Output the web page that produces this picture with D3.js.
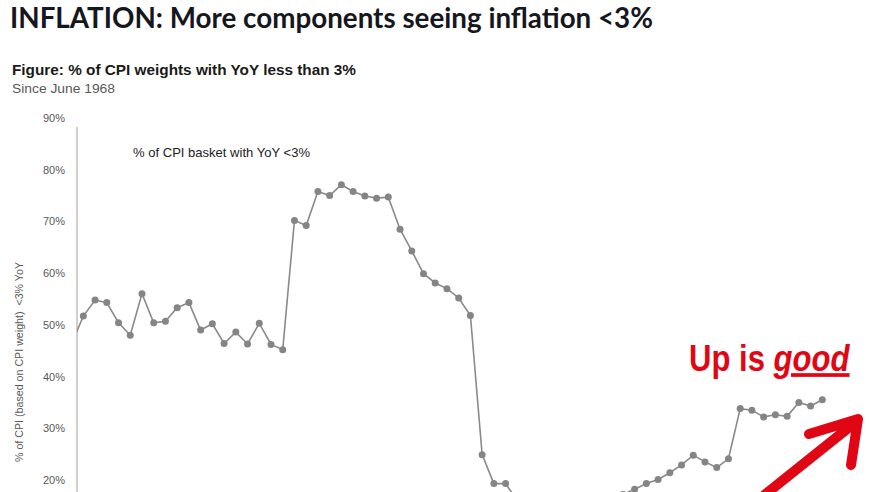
<!DOCTYPE html>
<html>
<head>
<meta charset="utf-8">
<script src="https://cdn.jsdelivr.net/npm/d3@7"></script>
<style>
  html, body { margin: 0; padding: 0; background: #fff; }
  svg { display: block; }
</style>
</head>
<body>
<svg id="chart" width="870" height="492"></svg>
<script>
// ---- Data ----
const periods = d3.range(0, 65); // sequential observations since June 1968
const shareBelow3 = [
  46.3, 51.7, 54.8, 54.3, 50.4, 48.0, 56.0, 50.4, 50.7, 53.3,
  54.3, 49.0, 50.2, 46.4, 48.6, 46.3, 50.3, 46.2, 45.2, 70.2,
  69.2, 75.8, 75.0, 77.1, 75.8, 74.9, 74.5, 74.7, 68.5, 64.3,
  59.9, 58.1, 57.0, 55.2, 51.8, 24.9, 19.3, 19.3, 16.0, 14.0,
  12.5, 11.0, 12.0, 13.0, 14.5, 15.5, 16.5, 17.2, 18.2, 19.3,
  20.1, 21.4, 22.9, 24.8, 23.5, 22.4, 24.1, 33.8, 33.5, 32.2,
  32.6, 32.3, 35.0, 34.3, 35.5
];
const yTicks = [20, 30, 40, 50, 60, 70, 80, 90];

const title = "INFLATION: More components seeing inflation <3%";
const figTitle = "Figure: % of CPI weights with YoY less than 3%";
const figSub = "Since June 1968";
const seriesLabel = "% of CPI basket with YoY <3%";
const yTitle = "% of CPI (based on CPI weight)  <3% YoY";

// ---- Layout ----
const svg = d3.select("#chart");
const axisX = 77;

const x = d3.scaleLinear().domain([0, 64]).range([71.6, 822.3]);
const y = d3.scaleLinear().domain([0, 90]).range([583.4, 118]);

// Titles
svg.append("text")
  .attr("x", 10).attr("y", 28)
  .attr("font-family", "Lato, 'Open Sans', sans-serif")
  .attr("font-weight", 700)
  .attr("font-size", 28)
  .attr("fill", "#16161d")
  .attr("textLength", 643).attr("lengthAdjust", "spacingAndGlyphs")
  .text(title);

svg.append("text")
  .attr("x", 12).attr("y", 75)
  .attr("font-family", "'Liberation Sans', Arial, sans-serif")
  .attr("font-weight", 700)
  .attr("font-size", 15)
  .attr("fill", "#1a1a1a")
  .attr("textLength", 344).attr("lengthAdjust", "spacingAndGlyphs")
  .text(figTitle);

svg.append("text")
  .attr("x", 12).attr("y", 93)
  .attr("font-family", "'Liberation Sans', Arial, sans-serif")
  .attr("font-size", 13)
  .attr("fill", "#595959")
  .attr("textLength", 103).attr("lengthAdjust", "spacingAndGlyphs")
  .text(figSub);

// Y axis
const yAxis = d3.axisLeft(y).tickValues(yTicks).tickSize(0).tickPadding(0)
  .tickFormat(d => d + "%");
const gAxis = svg.append("g")
  .attr("transform", `translate(65,0)`)
  .attr("color", "#595959")
  .call(yAxis);
gAxis.select(".domain").remove();
gAxis.selectAll("text")
  .attr("font-family", "'Liberation Sans', Arial, sans-serif")
  .attr("font-size", 11)
  .attr("fill", "#595959");

svg.append("line")
  .attr("x1", axisX).attr("x2", axisX)
  .attr("y1", 127).attr("y2", 492)
  .attr("stroke", "#bfbfbf").attr("stroke-width", 1.5);

svg.append("text")
  .attr("transform", `translate(23,362) rotate(-90)`)
  .attr("text-anchor", "middle")
  .attr("font-family", "'Liberation Sans', Arial, sans-serif")
  .attr("font-size", 11)
  .attr("fill", "#595959")
  .attr("xml:space", "preserve")
  .style("white-space", "pre")
  .attr("textLength", 200).attr("lengthAdjust", "spacingAndGlyphs")
  .text(yTitle);

// Series label
svg.append("text")
  .attr("x", 133).attr("y", 157)
  .attr("font-family", "'Liberation Sans', Arial, sans-serif")
  .attr("font-size", 13)
  .attr("fill", "#222")
  .attr("textLength", 177).attr("lengthAdjust", "spacingAndGlyphs")
  .text(seriesLabel);

// Clip
svg.append("clipPath").attr("id", "plotClip")
  .append("rect").attr("x", axisX).attr("y", 100).attr("width", 790).attr("height", 392);

const data = periods.map((p, i) => ({ p, v: shareBelow3[i] }));
const gPlot = svg.append("g").attr("clip-path", "url(#plotClip)");

gPlot.append("path")
  .datum(data)
  .attr("fill", "none")
  .attr("stroke", "#8a8a8a")
  .attr("stroke-width", 1.6)
  .attr("d", d3.line().x(d => x(d.p)).y(d => y(d.v)));

gPlot.selectAll("circle")
  .data(data.slice(1))
  .join("circle")
  .attr("cx", d => x(d.p))
  .attr("cy", d => y(d.v))
  .attr("r", 3.5)
  .attr("fill", "#858585");

// Annotation
const red = "#e10613";
const ann = svg.append("g").attr("transform", "translate(689,371) scale(0.84,1)");
const annText = ann.append("text")
  .attr("font-family", "'Liberation Sans', Arial, sans-serif")
  .attr("font-weight", 700)
  .attr("font-size", 37)
  .attr("fill", red);
annText.append("tspan").text("Up is ");
annText.append("tspan").attr("font-style", "italic").attr("text-decoration", "underline").text("good");

svg.append("path")
  .attr("d", "M762,497 L857,421 M809,434 L858,419 L851,465")
  .attr("fill", "none")
  .attr("stroke", red)
  .attr("stroke-width", 10)
  .attr("stroke-linecap", "round")
  .attr("stroke-linejoin", "round");
</script>
</body>
</html>
